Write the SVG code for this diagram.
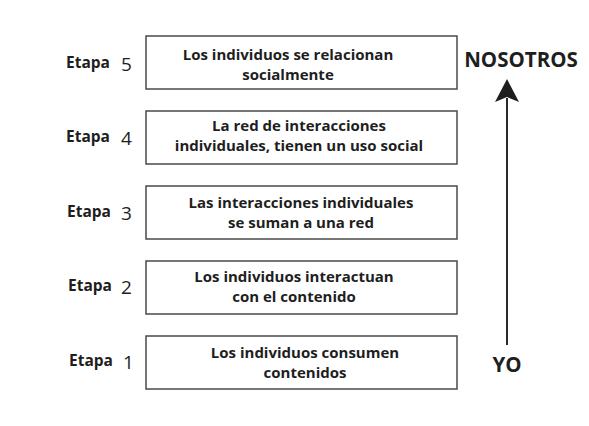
<svg xmlns="http://www.w3.org/2000/svg" width="589" height="426" viewBox="0 0 589 426">
<style>
.box{fill:#fff;stroke:#4a4a4a;stroke-width:1.5}
.t{font-family:"Open Sans","Liberation Sans",sans-serif;font-weight:bold;font-size:15px;fill:#1e1e1e;text-anchor:middle}
.e{font-family:"Open Sans","Liberation Sans",sans-serif;font-weight:bold;font-size:15.5px;fill:#1e1e1e}
.n{font-family:"Open Sans","Liberation Sans",sans-serif;font-size:19px;fill:#1e1e1e}
.big{font-family:"Open Sans","Liberation Sans",sans-serif;font-weight:bold;font-size:20.5px;fill:#1e1e1e;text-anchor:middle}
</style>
<rect width="589" height="426" fill="#fff"/>
<g id="stage5">
<rect class="box" x="146" y="36" width="311" height="53"/>
<text class="e" x="66" y="68">Etapa</text><text class="n" x="121" y="71">5</text>
<text class="t" x="288" y="60">Los individuos se relacionan</text>
<text class="t" x="288" y="80">socialmente</text>
</g>
<g id="stage4">
<rect class="box" x="146" y="111" width="311" height="53"/>
<text class="e" x="66" y="142">Etapa</text><text class="n" x="121" y="145">4</text>
<text class="t" x="299" y="131">La red de interacciones</text>
<text class="t" x="299" y="151">individuales, tienen un uso social</text>
</g>
<g id="stage3">
<rect class="box" x="146" y="186" width="311" height="53"/>
<text class="e" x="67" y="217">Etapa</text><text class="n" x="121" y="220">3</text>
<text class="t" x="301" y="208">Las interacciones individuales</text>
<text class="t" x="301" y="228">se suman a una red</text>
</g>
<g id="stage2">
<rect class="box" x="146" y="261" width="311" height="53"/>
<text class="e" x="68" y="291">Etapa</text><text class="n" x="121" y="294">2</text>
<text class="t" x="294" y="282">Los individuos interactuan</text>
<text class="t" x="294" y="302">con el contenido</text>
</g>
<g id="stage1">
<rect class="box" x="146" y="336" width="311" height="53"/>
<text class="e" x="69" y="366">Etapa</text><text class="n" x="123" y="369">1</text>
<text class="t" x="305" y="358">Los individuos consumen</text>
<text class="t" x="305" y="378">contenidos</text>
</g>
<g id="nosotros"><text class="big" x="521" y="67">NOSOTROS</text></g>
<g id="yo"><text class="big" x="507" y="372">YO</text></g>
<g id="connectors">
<line x1="507" y1="345" x2="507" y2="98" stroke="#2a2a2a" stroke-width="2"/>
<path d="M507 79 L519 102 L507 97 L495 102 Z" fill="#1e1e1e"/>
</g>
</svg>
